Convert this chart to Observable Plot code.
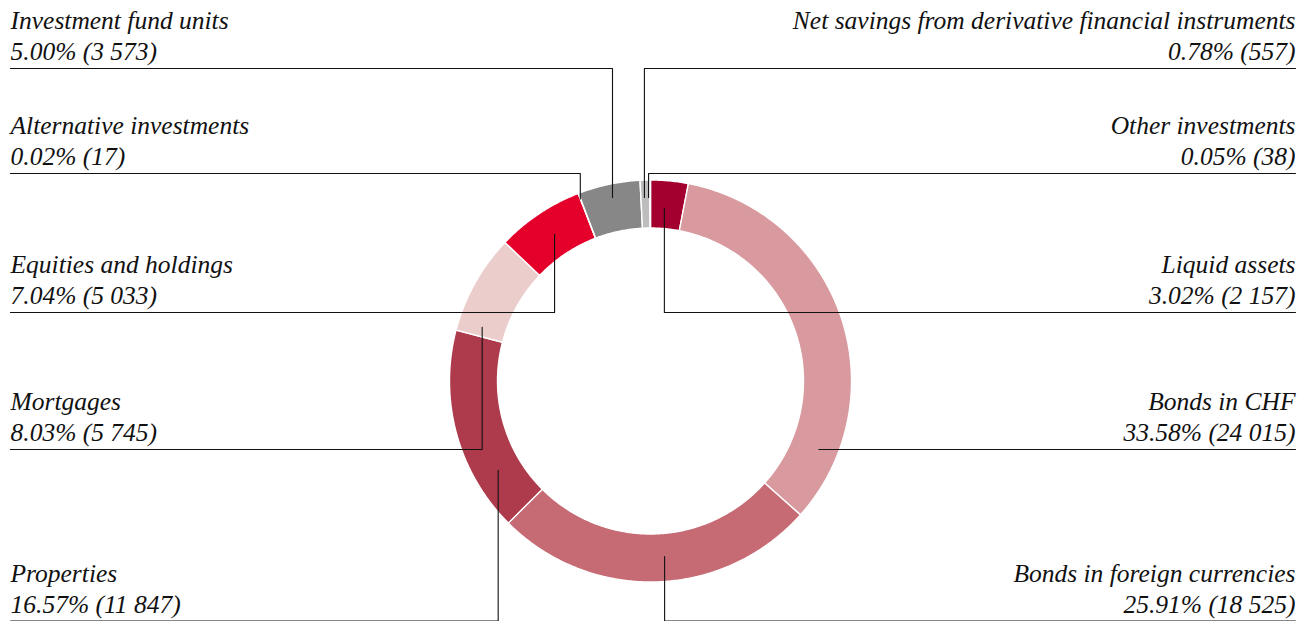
<!DOCTYPE html>
<html>
<head>
<meta charset="utf-8">
<script src="https://cdn.jsdelivr.net/npm/d3@7"></script>
<script src="https://cdn.jsdelivr.net/npm/@observablehq/plot@0.6"></script>
<style>
  html, body { margin: 0; padding: 0; background: #fff; }
  #chart svg { display: block; }
</style>
</head>
<body>
<div id="chart"></div>
<script>
// Asset allocation, CHF million, clockwise from 12 o'clock
const categories = [
  "Liquid assets",
  "Bonds in CHF",
  "Bonds in foreign currencies",
  "Properties",
  "Mortgages",
  "Equities and holdings",
  "Alternative investments",
  "Investment fund units",
  "Net savings from derivative financial instruments",
  "Other investments"
];
const amounts = [2157, 24015, 18525, 11847, 5745, 5033, 17, 3573, 557, 38];
const colors = ["#a3002f", "#d89a9e", "#c66a73", "#ae3b4c", "#ebcdcc", "#e4002b", "#1c1c1c", "#878787", "#bdbdbd", "#9a9a9a"];

// Label layout: side of the page, y of the rule under the label,
// and the point on the ring the leader runs to (angle in degrees, radius)
const labelSide   = ["right", "right", "right", "left", "left", "left", "left", "left", "right", "right"];
const labelRule   = [312, 449, 620.5, 620.5, 449, 312, 173, 68, 68, 173];
const anchorAngle = [4.6, 112.14, 175.4, 239.6, 287.7, 326.8, 338.9, 348.3, 358.1, 359.4];
const anchorRadius = [173, 181.8, 176, 176.6, 176.7, 175.2, 195, 187.4, 183.6, 183.6];

const W = 1309, H = 621;
const cx = 650, cy = 380.5, R = 201, r = 153;
const left = 10, right = 1295;
const font = "'Liberation Serif', 'DejaVu Serif', serif";

const total = d3.sum(amounts);
const polar = (deg, rho) => {
  const a = deg * Math.PI / 180;
  return [cx + rho * Math.sin(a), cy - rho * Math.cos(a)];
};

// Ring segments as closed outlines in the x/y data space
const segments = [];
let acc = 0;
categories.forEach((name, i) => {
  const a0 = acc / total * 360;
  acc += amounts[i];
  const a1 = acc / total * 360;
  const n = Math.max(2, Math.ceil((a1 - a0) / 0.5));
  const pts = [];
  for (let k = 0; k <= n; ++k) pts.push(polar(a0 + (a1 - a0) * k / n, R));
  for (let k = n; k >= 0; --k) pts.push(polar(a0 + (a1 - a0) * k / n, r));
  pts.push(pts[0]);
  for (const [x, y] of pts) segments.push({name, x, y, color: colors[i]});
});

// Leaders: along the rule under the label, then straight to the ring
const leaders = [];
const labels = [];
categories.forEach((name, i) => {
  const [ax, ay] = polar(anchorAngle[i], anchorRadius[i]);
  const x0 = labelSide[i] === "left" ? left : right;
  leaders.push({name, x: x0, y: labelRule[i]});
  leaders.push({name, x: ax, y: labelRule[i]});
  leaders.push({name, x: ax, y: ay});
  const pct = (amounts[i] / total * 100).toFixed(2);
  const amt = d3.format(",")(amounts[i]).replace(/,/g, " ");
  labels.push({
    x: x0,
    y: labelRule[i] - 8.5,
    side: labelSide[i],
    text: `${name}\n${pct}% (${amt})`
  });
});

const chart = Plot.plot({
  width: W,
  height: H,
  margin: 0,
  x: {domain: [0, W], range: [0, W], axis: null},
  y: {domain: [0, H], range: [0, H], axis: null},
  color: {type: "identity"},
  style: {background: "#fff"},
  marks: [
    Plot.line(segments, {x: "x", y: "y", z: "name", fill: "color", stroke: "#fff", strokeWidth: 1.4, curve: "linear"}),
    Plot.line(leaders, {x: "x", y: "y", z: "name", stroke: "#111", strokeWidth: 1.1, curve: "linear"}),
    Plot.text(labels.filter(d => d.side === "left"), {
      x: "x", y: "y", text: "text", textAnchor: "start", lineAnchor: "bottom",
      lineHeight: 1.216, fontSize: 25.5, fontStyle: "italic", fontFamily: font, fill: "#111"
    }),
    Plot.text(labels.filter(d => d.side === "right"), {
      x: "x", y: "y", text: "text", textAnchor: "end", lineAnchor: "bottom",
      lineHeight: 1.216, fontSize: 25.5, fontStyle: "italic", fontFamily: font, fill: "#111"
    })
  ]
});
document.getElementById("chart").appendChild(chart);
</script>
</body>
</html>
